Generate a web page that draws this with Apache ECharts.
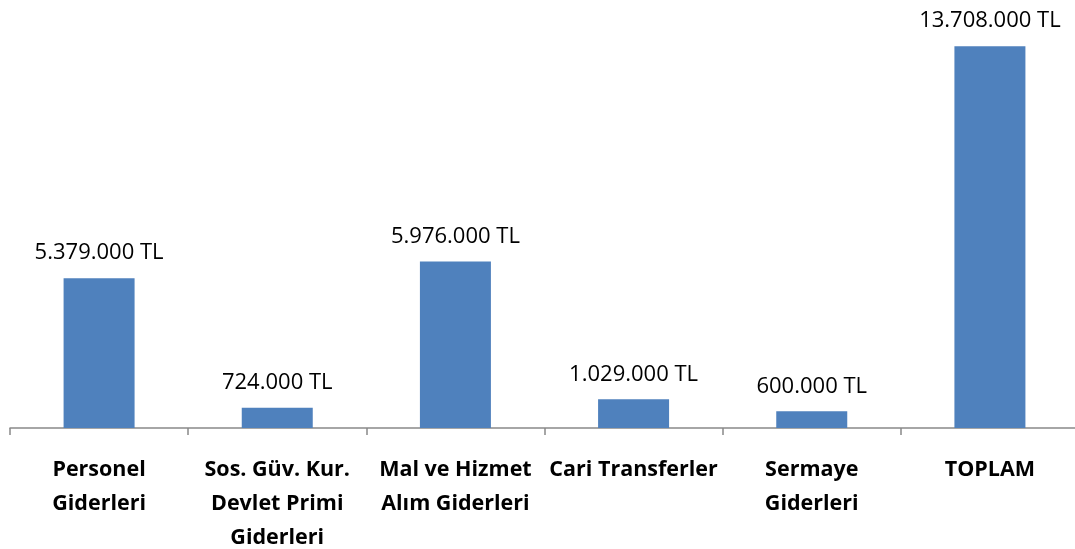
<!DOCTYPE html>
<html>
<head>
<meta charset="utf-8">
<script src="https://cdn.jsdelivr.net/npm/echarts@6/dist/echarts.min.js"></script>
<style>html,body{margin:0;padding:0;background:#fff}#c{width:1075px;height:549px}</style>
</head>
<body>
<div id="c"></div>
<script>
const categories = ["Personel\nGiderleri", "Sos. Güv. Kur.\nDevlet Primi\nGiderleri", "Mal ve Hizmet\nAlım Giderleri", "Cari Transferler", "Sermaye\nGiderleri", "TOPLAM"];
const values = [5379000, 724000, 5976000, 1029000, 600000, 13708000];

function fmt(v){ return String(v).replace(/\B(?=(\d{3})+(?!\d))/g, '.') + ' TL'; }

const chart = echarts.init(document.getElementById('c'));
chart.setOption({
  animation: false,
  grid: { left: 10, right: -4, top: 38, bottom: 121, containLabel: false, outerBoundsMode: 'none' },
  xAxis: {
    type: 'category',
    data: categories,
    axisLine: { lineStyle: { color: '#898989', width: 1.5 } },
    axisTick: { show: true, alignWithLabel: false, length: 7, lineStyle: { color: '#898989', width: 1.5 } },
    axisLabel: { interval: 0, color: '#000', fontFamily: 'Open Sans', fontWeight: 'bold', fontSize: 21.5, lineHeight: 34, margin: 25, hideOverlap: false }
  },
  yAxis: { type: 'value', min: 0, max: 14000000, show: false, splitLine: { show: false } },
  series: [{
    type: 'bar',
    data: values,
    barWidth: 71,
    itemStyle: { color: '#4F81BD' },
    label: { show: true, position: 'top', distance: 14, color: '#000', fontFamily: 'Open Sans', fontSize: 22, formatter: p => fmt(p.value) }
  }]
});
</script>
</body>
</html>
